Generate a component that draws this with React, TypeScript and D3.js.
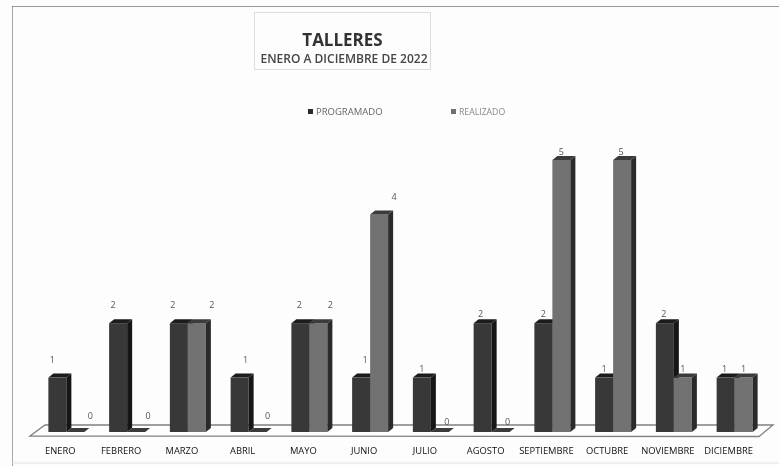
import React from "react";
import * as d3 from "d3";

const months = ["ENERO","FEBRERO","MARZO","ABRIL","MAYO","JUNIO","JULIO","AGOSTO","SEPTIEMBRE","OCTUBRE","NOVIEMBRE","DICIEMBRE"];
const programado = [1,2,2,1,2,1,1,2,2,1,2,1];
const realizado = [0,0,2,0,2,4,0,0,5,5,1,1];
// label nudges relative to the top-centre of each bar
const programadoLabelDx = [-5,-5,-6,6,-1,4,0,-2,0,0,-1,-1];
const programadoLabelDy = [-18,-18,-18,-18,-18,-18,-9,-9,-9,-9,-9,-9];
const realizadoLabelDx = [15,12,15,10,12,15,7,7,0,-1,0,0];
const realizadoLabelDy = [-16,-16,-18,-16,-18,-17,-10,-10,-8,-8,-9,-9];
const FONT = "'Open Sans', 'Noto Sans', sans-serif";

const x = d3.scaleBand<string>().domain(months).range([36, 765]).paddingInner(0.4).paddingOuter(0.2);
const y = d3.scaleLinear().domain([0,5]).range([432,160]);
const D = 5;

function Bar({x0,w,v,front,side,top}:{x0:number,w:number,v:number,front:string,side:string,top:string}){
  const yt=y(v), yb=y(0);
  if(v===0){
    return <path d={`M${x0},${yb} l${w},0 l${D},-4 l${-w},0 Z`} fill={top}/>;
  }
  return <g>
    <rect x={x0} y={yt} width={w} height={yb-yt} fill={front}/>
    <path d={`M${x0+w},${yt} l${D},-4 L${x0+w+D},${yb-4} L${x0+w},${yb} Z`} fill={side}/>
    <path d={`M${x0},${yt} l${D},-4 l${w},0 l${-D},4 Z`} fill={top}/>
  </g>;
}

export default function App(){
  const w = 18;
  return <svg width={779} height={466} style={{position:"absolute",left:0,top:0,background:"#fdfdfd"}}>
    <defs><filter id="scan" x="0" y="0" width="100%" height="100%"><feGaussianBlur stdDeviation="0.5"/></filter></defs>
    <g filter="url(#scan)">
    <path d="M12,6 H779 M12,6 V466" stroke="#7a7a7a" strokeWidth={1.3} fill="none"/>
    <path d="M12,463 H779" stroke="#e2e2e2" strokeWidth={1} fill="none"/>
    <rect x={254.5} y={12.5} width={176} height={57} fill="#fdfdfd" stroke="#dedede"/>
    <text x={342.5} y={46} textAnchor="middle" fontFamily={FONT} fontSize={17} fontWeight={700} fill="#333">TALLERES</text>
    <text x={344} y={63} textAnchor="middle" fontFamily={FONT} fontSize={12} fontWeight={600} fill="#444">ENERO A DICIEMBRE DE 2022</text>
    <rect x={308} y={109} width={5} height={5} fill="#2b2b2b"/>
    <text x={316} y={115} fontFamily={FONT} fontSize={9.5} fill="#666">PROGRAMADO</text>
    <rect x={451} y={109} width={5} height={5} fill="#707070"/>
    <text x={459} y={115} fontFamily={FONT} fontSize={8.7} fill="#888">REALIZADO</text>
    <path d="M30,436 L45,425 H773 L759,436.5 Z" fill="#fefefe" stroke="#808080" strokeWidth={1.3}/>
    {months.map((m,i)=>{
      const c=x(m)!+x.bandwidth()/2;
      const pv=programado[i], rv=realizado[i];
      return <g key={m}>
        <Bar x0={c-w} w={w} v={pv} front="#383838" side="#161616" top="#1c1c1c"/>
        <Bar x0={c} w={w} v={rv} front="#727272" side="#2a2a2a" top="#3a3a3a"/>
        <text x={c-w/2+programadoLabelDx[i]} y={y(pv)+programadoLabelDy[i]+3} textAnchor="middle" fontFamily={FONT} fontSize={9} fill="#555">{pv}</text>
        <text x={c+w/2+realizadoLabelDx[i]} y={y(rv)+realizadoLabelDy[i]+3} textAnchor="middle" fontFamily={FONT} fontSize={9} fill="#555">{rv}</text>
        <text x={c-6} y={454} textAnchor="middle" fontFamily={FONT} fontSize={9.4} fontWeight={500} fill="#111">{m}</text>
      </g>;
    })}
    </g>
  </svg>;
}
